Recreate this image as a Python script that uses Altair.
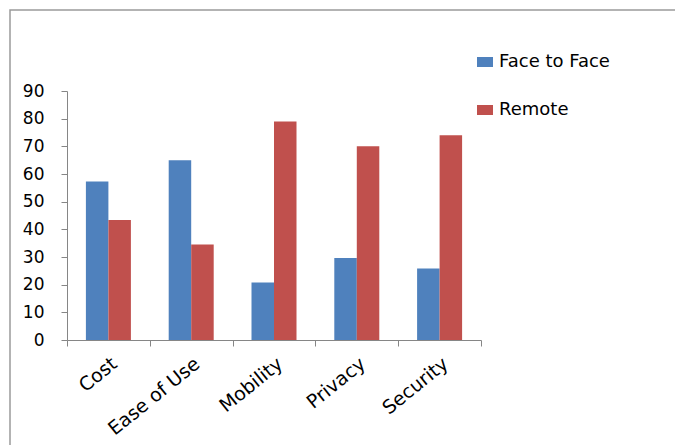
import altair as alt
import pandas as pd

categories = ["Cost", "Ease of Use", "Mobility", "Privacy", "Security"]
face_to_face = [57.3, 65, 20.8, 29.6, 25.8]
remote = [43.4, 34.5, 79, 70, 74]
series = ["Face to Face", "Remote"]
colors = ["#4F81BD", "#C0504D"]
y_ticks = [0, 10, 20, 30, 40, 50, 60, 70, 80, 90]

rows = []
for c, a, b in zip(categories, face_to_face, remote):
    rows.append({"cat": c, "series": series[0], "value": a})
    rows.append({"cat": c, "series": series[1], "value": b})
df = pd.DataFrame(rows)

FONT = "DejaVu Sans"

bars = alt.Chart(df).mark_bar().encode(
    x=alt.X("cat:N", sort=categories, title=None,
            scale=alt.Scale(paddingInner=0, paddingOuter=0),
            axis=alt.Axis(labelAngle=-39, tickBand="extent", labelFontSize=19,
                          labelFont=FONT, labelColor="#000000", domainColor="#868686",
                          tickColor="#868686", tickSize=6, labelPadding=8)),
    xOffset=alt.XOffset("series:N", sort=series,
                        scale=alt.Scale(paddingInner=0, paddingOuter=0.84)),
    y=alt.Y("value:Q", title=None,
            scale=alt.Scale(domain=[0, 90], nice=False),
            axis=alt.Axis(values=y_ticks, grid=False, labelFontSize=17, labelFont=FONT,
                          labelColor="#000000", domainColor="#868686", tickColor="#868686",
                          tickSize=6, labelPadding=17)),
    color=alt.Color("series:N", sort=series,
                    scale=alt.Scale(domain=series, range=colors),
                    legend=alt.Legend(title=None, orient="none", legendX=408, legendY=-39,
                                      symbolType="M-0.8,-0.5H0.8V0.5H-0.8Z", symbolSize=400,
                                      symbolStrokeWidth=0, labelFontSize=18,
                                      labelFont=FONT, labelColor="#000000",
                                      rowPadding=29, labelOffset=4)),
)

frame = alt.Chart(pd.DataFrame({"a": [0]})).mark_rect(
    fill=None, stroke="#9a9a9a", strokeWidth=1.5
).encode(
    x=alt.value(-57), x2=alt.value(700), y=alt.value(-81), y2=alt.value(400)
)

chart = alt.layer(frame, bars).properties(
    width=414, height=249,
    autosize=alt.AutoSizeParams(type="none"),
    padding={"left": 67, "top": 91, "right": 194, "bottom": 105},
    background="white",
).configure_view(strokeWidth=0, stroke=None)

chart.save("out.html", embed_options={"renderer": "svg", "actions": False})
